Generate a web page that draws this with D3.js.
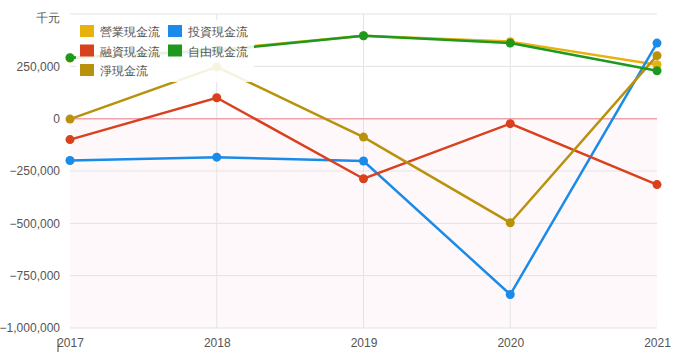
<!DOCTYPE html>
<html>
<head>
<meta charset="utf-8">
<script src="https://cdn.jsdelivr.net/npm/d3@7"></script>
<style>
  body { margin: 0; background: #fff; }
  text { font-family: "Liberation Sans", Arial, sans-serif; }
</style>
</head>
<body>
<div id="chart"></div>
<script>
// data (千元)
const years = ["2017", "2018", "2019", "2020", "2021"];
const operating = [290000, 330000, 396000, 368000, 258000];
const investing = [-200000, -184000, -202000, -840000, 361000];
const financing = [-100000, 100000, -287000, -24000, -315000];
const freeCash = [291000, 325000, 396000, 361000, 229000];
const netCash = [-2000, 248000, -88000, -497000, 301000];
const yTicks = [-1000000, -750000, -500000, -250000, 0, 250000];

const series = [
  { name: "營業現金流", values: operating, color: "#e8b20c" },
  { name: "融資現金流", values: financing, color: "#d9411e" },
  { name: "淨現金流", values: netCash, color: "#b8920c" },
  { name: "投資現金流", values: investing, color: "#1a8be8" },
  { name: "自由現金流", values: freeCash, color: "#1f981f" },
];

const margin = { top: 14, right: 28, bottom: 32, left: 70 },
  width = 685 - margin.left - margin.right,
  height = 360 - margin.top - margin.bottom;

const svg = d3
  .select("#chart")
  .append("svg")
  .attr("width", 685)
  .attr("height", 360)
  .append("g")
  .attr("transform", `translate(${margin.left},${margin.top})`);

const x = d3.scalePoint().domain(years).range([0, width]);
const y = d3.scaleLinear().domain([-1000000, 500000]).range([height, 0]);

// pink area below zero
svg
  .append("rect")
  .attr("x", 0)
  .attr("y", y(0))
  .attr("width", width)
  .attr("height", y(-1000000) - y(0))
  .attr("fill", "#fff8fa");

// horizontal grid
svg
  .append("g")
  .selectAll("line")
  .data(yTicks.concat([500000]).filter((d) => d !== 0))
  .join("line")
  .attr("x1", 0)
  .attr("x2", width)
  .attr("y1", (d) => y(d))
  .attr("y2", (d) => y(d))
  .attr("stroke", "#e3e3e3");

// vertical grid
svg
  .append("g")
  .selectAll("line")
  .data(years.slice(1, -1))
  .join("line")
  .attr("x1", (d) => x(d))
  .attr("x2", (d) => x(d))
  .attr("y1", 0)
  .attr("y2", height)
  .attr("stroke", "#e3e3e3");

// zero line
svg
  .append("line")
  .attr("x1", 0)
  .attr("x2", width)
  .attr("y1", y(0))
  .attr("y2", y(0))
  .attr("stroke", "#eaa3ad")
  .attr("stroke-width", 1.5);

// Y axis
const yAxis = svg
  .append("g")
  .call(
    d3
      .axisLeft(y)
      .tickValues(yTicks)
      .tickSize(0)
      .tickPadding(10)
      .tickFormat(d3.format(",")),
  );
yAxis.select(".domain").remove();
yAxis.selectAll("text").attr("fill", "#555").attr("font-size", 12);

svg
  .append("text")
  .attr("x", -10)
  .attr("y", 8)
  .attr("text-anchor", "end")
  .attr("fill", "#555")
  .attr("font-size", 12)
  .text("千元");

// X axis
const xAxis = svg
  .append("g")
  .attr("transform", `translate(0, ${height})`)
  .call(d3.axisBottom(x).tickSize(0).tickPadding(10));
xAxis.select(".domain").remove();
xAxis.selectAll("text").attr("fill", "#555").attr("font-size", 12);

svg
  .append("line")
  .attr("x1", -12)
  .attr("x2", -12)
  .attr("y1", height + 11)
  .attr("y2", height + 24)
  .attr("stroke", "#444");

// lines
const line = d3
  .line()
  .x((d, i) => x(years[i]))
  .y((d) => y(d));

const drawOrder = [series[0], series[3], series[1], series[2], series[4]];
drawOrder.forEach((s) => {
  svg
    .append("path")
    .datum(s.values)
    .attr("fill", "none")
    .attr("stroke", s.color)
    .attr("stroke-width", 2.5)
    .attr("d", line);
  svg
    .append("g")
    .selectAll("circle")
    .data(s.values)
    .join("circle")
    .attr("cx", (d, i) => x(years[i]))
    .attr("cy", (d) => y(d))
    .attr("r", 4.5)
    .attr("fill", s.color);
});

// legend
const legend = svg.append("g").attr("transform", "translate(6, 6)");
legend
  .append("rect")
  .attr("x", 0)
  .attr("y", 0)
  .attr("width", 178)
  .attr("height", 62)
  .attr("fill", "#fff")
  .attr("opacity", 0.88);

series.forEach((s, i) => {
  const col = i < 3 ? 0 : 1,
    row = i < 3 ? i : i - 3;
  const g = legend
    .append("g")
    .attr("transform", `translate(${4 + col * 88}, ${5 + row * 19.5})`);
  g.append("rect").attr("width", 14).attr("height", 12).attr("fill", s.color);
  g.append("text")
    .attr("x", 20)
    .attr("y", 11)
    .attr("fill", "#555")
    .attr("font-size", 12)
    .text(s.name);
});
</script>
</body>
</html>
